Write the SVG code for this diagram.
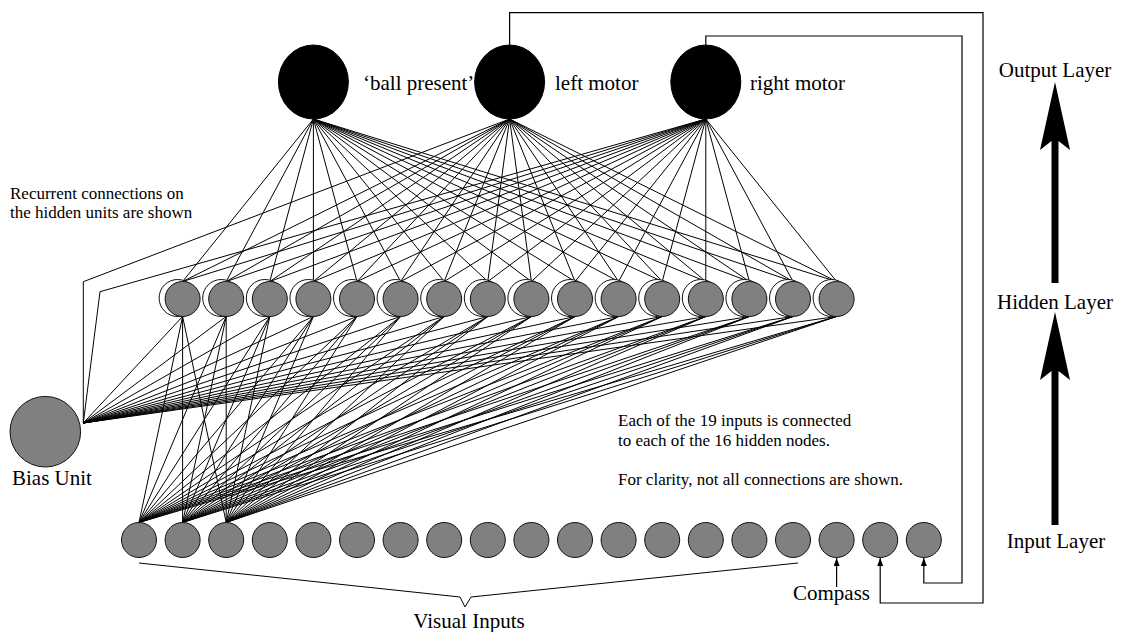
<svg xmlns="http://www.w3.org/2000/svg" width="1127" height="632" viewBox="0 0 1127 632">
<style>
.ln{fill:none;stroke:#000;stroke-width:1}
.fb{fill:none;stroke:#000;stroke-width:1.2}
.out{fill:#000;stroke:#000}
.hid{fill:#808080;stroke:#111;stroke-width:1}
.rec{fill:#fff;stroke:#111;stroke-width:1}
.inp{fill:#808080;stroke:#111;stroke-width:1}
.big{font-family:"Liberation Serif","Times New Roman",serif;font-size:21px;fill:#000}
.sm{font-family:"Liberation Serif","Times New Roman",serif;font-size:17px;fill:#000}
.arr{fill:#000;stroke:none}
</style>
<defs>
<marker id="ah" viewBox="0 0 8 6" refX="8" refY="3" markerWidth="8" markerHeight="6" markerUnits="userSpaceOnUse" orient="auto">
<path d="M0 0L8 3L0 6z" fill="#000"/>
</marker>
</defs>
<rect width="1127" height="632" fill="#fff"/>
<g id="connectors">
<path class="ln" d="M313.4 119L182.6 281.5M313.4 119L226.2 281.5M313.4 119L269.8 281.5M313.4 119L313.4 281.5M313.4 119L357 281.5M313.4 119L400.6 281.5M313.4 119L444.2 281.5M313.4 119L487.8 281.5M313.4 119L531.4 281.5M313.4 119L575 281.5M313.4 119L618.6 281.5M313.4 119L662.2 281.5M313.4 119L705.8 281.5M313.4 119L749.4 281.5M313.4 119L793 281.5M313.4 119L836.6 281.5"/>
<path class="ln" d="M509.6 119L182.6 281.5M509.6 119L226.2 281.5M509.6 119L269.8 281.5M509.6 119L313.4 281.5M509.6 119L357 281.5M509.6 119L400.6 281.5M509.6 119L444.2 281.5M509.6 119L487.8 281.5M509.6 119L531.4 281.5M509.6 119L575 281.5M509.6 119L618.6 281.5M509.6 119L662.2 281.5M509.6 119L705.8 281.5M509.6 119L749.4 281.5M509.6 119L793 281.5M509.6 119L836.6 281.5"/>
<path class="ln" d="M705.8 119L182.6 281.5M705.8 119L226.2 281.5M705.8 119L269.8 281.5M705.8 119L313.4 281.5M705.8 119L357 281.5M705.8 119L400.6 281.5M705.8 119L444.2 281.5M705.8 119L487.8 281.5M705.8 119L531.4 281.5M705.8 119L575 281.5M705.8 119L618.6 281.5M705.8 119L662.2 281.5M705.8 119L705.8 281.5M705.8 119L749.4 281.5M705.8 119L793 281.5M705.8 119L836.6 281.5"/>
<path class="ln" d="M83.3 423L182.6 316.5M83.3 423L226.2 316.5M83.3 423L269.8 316.5M83.3 423L313.4 316.5M83.3 423L357 316.5M83.3 423L400.6 316.5M83.3 423L444.2 316.5M83.3 423L487.8 316.5M83.3 423L531.4 316.5M83.3 423L575 316.5M83.3 423L618.6 316.5M83.3 423L662.2 316.5M83.3 423L705.8 316.5M83.3 423L749.4 316.5M83.3 423L793 316.5M83.3 423L836.6 316.5"/>
<path class="ln" d="M83.3 423L83.3 281.7L509.6 119M83.3 423L100 291.7L705.8 119"/>
<path class="ln" d="M139 522.5L182.6 316.5M139 522.5L226.2 316.5M139 522.5L269.8 316.5M139 522.5L313.4 316.5M139 522.5L357 316.5M139 522.5L400.6 316.5M139 522.5L444.2 316.5M139 522.5L487.8 316.5M139 522.5L531.4 316.5M139 522.5L575 316.5M139 522.5L618.6 316.5M139 522.5L662.2 316.5M139 522.5L705.8 316.5M139 522.5L749.4 316.5M139 522.5L793 316.5M139 522.5L836.6 316.5"/>
<path class="ln" d="M182.6 522.5L182.6 316.5M182.6 522.5L226.2 316.5M182.6 522.5L269.8 316.5M182.6 522.5L313.4 316.5M182.6 522.5L357 316.5M182.6 522.5L400.6 316.5M182.6 522.5L444.2 316.5M182.6 522.5L487.8 316.5M182.6 522.5L531.4 316.5M182.6 522.5L575 316.5M182.6 522.5L618.6 316.5M182.6 522.5L662.2 316.5M182.6 522.5L705.8 316.5M182.6 522.5L749.4 316.5M182.6 522.5L793 316.5M182.6 522.5L836.6 316.5"/>
<path class="ln" d="M226.2 522.5L182.6 316.5M226.2 522.5L226.2 316.5M226.2 522.5L269.8 316.5M226.2 522.5L313.4 316.5M226.2 522.5L357 316.5M226.2 522.5L400.6 316.5M226.2 522.5L444.2 316.5M226.2 522.5L487.8 316.5M226.2 522.5L531.4 316.5M226.2 522.5L575 316.5M226.2 522.5L618.6 316.5M226.2 522.5L662.2 316.5M226.2 522.5L705.8 316.5M226.2 522.5L749.4 316.5M226.2 522.5L793 316.5M226.2 522.5L836.6 316.5"/>
<polyline class="fb" points="509.6,45 509.6,12.7 983,12.7 983,603 880.2,603 880.2,558" marker-end="url(#ah)"/>
<polyline class="fb" points="705.8,45 705.8,36 962,36 962,583 923.8,583 923.8,558" marker-end="url(#ah)"/>
<polyline class="fb" points="836.6,587 836.6,558" marker-end="url(#ah)"/>
<polyline class="ln" points="139,563 460,597 465,607 471,597 798,563"/>
<path class="arr" d="M1055 82L1070 150L1058.5 141L1058.5 283L1051.5 283L1051.5 141L1040 150Z"/>
<path class="arr" d="M1055 312L1070 380L1058.5 371L1058.5 525L1051.5 525L1051.5 371L1040 380Z"/>
</g>
<g id="output-nodes">
<g id="out-ball"><ellipse class="out" cx="313.4" cy="82" rx="35" ry="37"/><text class="big" x="363" y="90">‘ball present’</text></g>
<g id="out-left"><ellipse class="out" cx="509.6" cy="82" rx="35" ry="37"/><text class="big" x="555" y="90">left motor</text></g>
<g id="out-right"><ellipse class="out" cx="705.8" cy="82" rx="35" ry="37"/><text class="big" x="750" y="90">right motor</text></g>
</g>
<g id="hidden-nodes">
<g id="h1"><circle class="rec" cx="177.6" cy="298" r="18.5"/><circle class="hid" cx="182.6" cy="299" r="17.5"/></g>
<g id="h2"><circle class="rec" cx="221.2" cy="298" r="18.5"/><circle class="hid" cx="226.2" cy="299" r="17.5"/></g>
<g id="h3"><circle class="rec" cx="264.8" cy="298" r="18.5"/><circle class="hid" cx="269.8" cy="299" r="17.5"/></g>
<g id="h4"><circle class="rec" cx="308.4" cy="298" r="18.5"/><circle class="hid" cx="313.4" cy="299" r="17.5"/></g>
<g id="h5"><circle class="rec" cx="352" cy="298" r="18.5"/><circle class="hid" cx="357" cy="299" r="17.5"/></g>
<g id="h6"><circle class="rec" cx="395.6" cy="298" r="18.5"/><circle class="hid" cx="400.6" cy="299" r="17.5"/></g>
<g id="h7"><circle class="rec" cx="439.2" cy="298" r="18.5"/><circle class="hid" cx="444.2" cy="299" r="17.5"/></g>
<g id="h8"><circle class="rec" cx="482.8" cy="298" r="18.5"/><circle class="hid" cx="487.8" cy="299" r="17.5"/></g>
<g id="h9"><circle class="rec" cx="526.4" cy="298" r="18.5"/><circle class="hid" cx="531.4" cy="299" r="17.5"/></g>
<g id="h10"><circle class="rec" cx="570" cy="298" r="18.5"/><circle class="hid" cx="575" cy="299" r="17.5"/></g>
<g id="h11"><circle class="rec" cx="613.6" cy="298" r="18.5"/><circle class="hid" cx="618.6" cy="299" r="17.5"/></g>
<g id="h12"><circle class="rec" cx="657.2" cy="298" r="18.5"/><circle class="hid" cx="662.2" cy="299" r="17.5"/></g>
<g id="h13"><circle class="rec" cx="700.8" cy="298" r="18.5"/><circle class="hid" cx="705.8" cy="299" r="17.5"/></g>
<g id="h14"><circle class="rec" cx="744.4" cy="298" r="18.5"/><circle class="hid" cx="749.4" cy="299" r="17.5"/></g>
<g id="h15"><circle class="rec" cx="788" cy="298" r="18.5"/><circle class="hid" cx="793" cy="299" r="17.5"/></g>
<g id="h16"><circle class="rec" cx="831.6" cy="298" r="18.5"/><circle class="hid" cx="836.6" cy="299" r="17.5"/></g>
</g>
<g id="bias-unit"><circle class="inp" cx="45.3" cy="431.7" r="35.3"/><text class="big" x="12" y="485">Bias Unit</text></g>
<g id="input-nodes">
<circle id="i1" class="inp" cx="139" cy="540" r="17.5"/>
<circle id="i2" class="inp" cx="182.6" cy="540" r="17.5"/>
<circle id="i3" class="inp" cx="226.2" cy="540" r="17.5"/>
<circle id="i4" class="inp" cx="269.8" cy="540" r="17.5"/>
<circle id="i5" class="inp" cx="313.4" cy="540" r="17.5"/>
<circle id="i6" class="inp" cx="357" cy="540" r="17.5"/>
<circle id="i7" class="inp" cx="400.6" cy="540" r="17.5"/>
<circle id="i8" class="inp" cx="444.2" cy="540" r="17.5"/>
<circle id="i9" class="inp" cx="487.8" cy="540" r="17.5"/>
<circle id="i10" class="inp" cx="531.4" cy="540" r="17.5"/>
<circle id="i11" class="inp" cx="575" cy="540" r="17.5"/>
<circle id="i12" class="inp" cx="618.6" cy="540" r="17.5"/>
<circle id="i13" class="inp" cx="662.2" cy="540" r="17.5"/>
<circle id="i14" class="inp" cx="705.8" cy="540" r="17.5"/>
<circle id="i15" class="inp" cx="749.4" cy="540" r="17.5"/>
<circle id="i16" class="inp" cx="793" cy="540" r="17.5"/>
<circle id="i17" class="inp" cx="836.6" cy="540" r="17.5"/>
<circle id="i18" class="inp" cx="880.2" cy="540" r="17.5"/>
<circle id="i19" class="inp" cx="923.8" cy="540" r="17.5"/>
</g>
<g id="labels">
<text class="sm" x="10" y="199">Recurrent connections on</text>
<text class="sm" x="10" y="218">the hidden units are shown</text>
<text class="sm" x="618" y="426">Each of the 19 inputs is connected</text>
<text class="sm" x="618" y="446">to each of the 16 hidden nodes.</text>
<text class="sm" x="618" y="485">For clarity, not all connections are shown.</text>
<text class="big" x="793" y="600">Compass</text>
<text class="big" x="469" y="628" text-anchor="middle">Visual Inputs</text>
<text class="big" x="1055" y="77" text-anchor="middle">Output Layer</text>
<text class="big" x="1055" y="309" text-anchor="middle">Hidden Layer</text>
<text class="big" x="1056" y="548" text-anchor="middle">Input Layer</text>
</g>
</svg>
